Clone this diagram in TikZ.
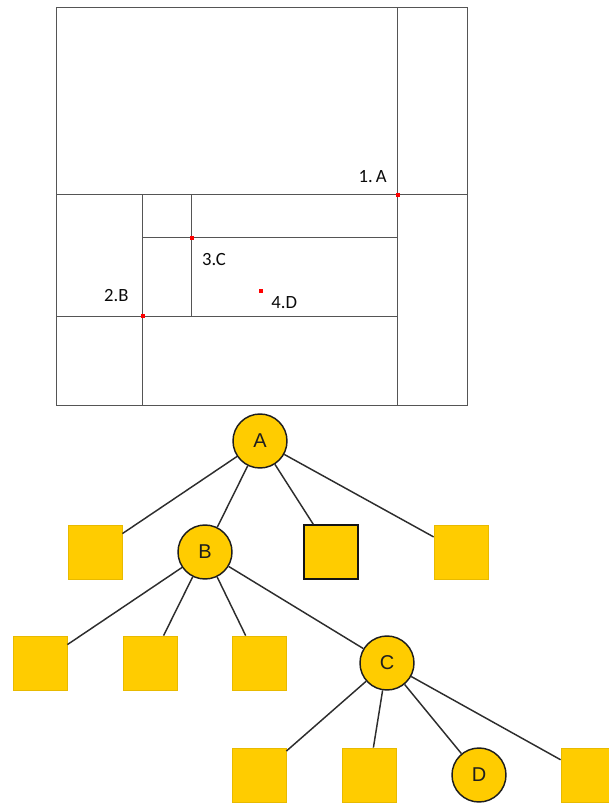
\documentclass[tikz,border=0pt]{standalone}
\usepackage{fontspec}
\setmainfont{Liberation Sans}
\newfontfamily\gridfont{Carlito}

\tikzset{every picture/.style={line width=0.75pt}}
\tikzset{
  gridline/.style={draw={rgb, 255:red, 85; green, 85; blue, 85 }},
  hitdot/.style={fill={rgb, 255:red, 255; green, 0; blue, 0 }},
  gridlabel/.style={font=\gridfont\fontsize{14}{16}\selectfont, inner sep=0pt, text={rgb, 255:red, 10; green, 10; blue, 10 }},
  inner/.style={circle, draw={rgb, 255:red, 30; green, 30; blue, 30 }, line width=1.1pt,
    fill={rgb, 255:red, 255; green, 204; blue, 0 }, minimum size=40.5pt, inner sep=0pt,
    font=\fontsize{15}{18}\selectfont, text={rgb, 255:red, 30; green, 30; blue, 30 }},
  leaf/.style={rectangle, draw={rgb, 255:red, 232; green, 186; blue, 0 }, line width=0.6pt,
    fill={rgb, 255:red, 255; green, 204; blue, 0 }, minimum size=40.5pt, inner sep=0pt},
  leafmark/.style={leaf, draw={rgb, 255:red, 20; green, 20; blue, 20 }, line width=1.1pt},
  branch/.style={draw={rgb, 255:red, 45; green, 45; blue, 45 }, line width=1.1pt}
}

\begin{document}
\begin{tikzpicture}[x=0.75pt,y=0.75pt,yscale=-1,xscale=1]
	\useasboundingbox (0,0) rectangle (608,803);

	%Shape: Rectangle (outer page)
	\draw [gridline] (56,7) rectangle (467.5,405.5) ;
	%Straight Lines
	\draw [gridline] (397.7,7) -- (397.7,405.5) ;
	\draw [gridline] (56,194.5) -- (467.5,194.5) ;
	\draw [gridline] (56,316.3) -- (397.7,316.3) ;
	\draw [gridline] (142.7,194.5) -- (142.7,405.5) ;
	\draw [gridline] (191.5,194.5) -- (191.5,316.3) ;
	\draw [gridline] (142.7,237.7) -- (397.7,237.7) ;

	%Shape: query points
	\path [hitdot] (395.7,192.5) rectangle (399.7,196.5) ;
	\path [hitdot] (189.5,235.7) rectangle (193.5,239.7) ;
	\path [hitdot] (140.7,314.3) rectangle (144.7,318.3) ;
	\path [hitdot] (259,288.7) rectangle (263,292.7) ;

	% Text Node
	\node [gridlabel] (lblA) at (372.7,176.7) {1.\,A};
	% Text Node
	\node [gridlabel] (lblB) at (116.3,296) {2.B};
	% Text Node
	\node [gridlabel] (lblC) at (214,259.3) {3.C};
	% Text Node
	\node [gridlabel] (lblD) at (284.3,302.3) {4.D};

	% Tree nodes
	\node [inner] (nA) at (260,441) {A};
	\node [inner] (nB) at (205,552) {B};
	\node [inner] (nC) at (387,663) {C};
	\node [inner] (nD) at (479,775) {D};

	\node [leaf] (la1) at (95,552) {};
	\node [leafmark] (la2) at (331,552) {};
	\node [leaf] (la3) at (461,552) {};

	\node [leaf] (lb1) at (40,663) {};
	\node [leaf] (lb2) at (150,663) {};
	\node [leaf] (lb3) at (259,663) {};

	\node [leaf] (lc1) at (259,775) {};
	\node [leaf] (lc2) at (369,775) {};
	\node [leaf] (lc3) at (588,775) {};

	%Straight Lines
	\draw [branch] (nA) -- (la1) ;
	\draw [branch] (nA) -- (nB) ;
	\draw [branch] (nA) -- (la2) ;
	\draw [branch] (nA) -- (la3) ;
	\draw [branch] (nB) -- (lb1) ;
	\draw [branch] (nB) -- (lb2) ;
	\draw [branch] (nB) -- (lb3) ;
	\draw [branch] (nB) -- (nC) ;
	\draw [branch] (nC) -- (lc1) ;
	\draw [branch] (nC) -- (lc2) ;
	\draw [branch] (nC) -- (nD) ;
	\draw [branch] (nC) -- (lc3) ;

\end{tikzpicture}
\end{document}
